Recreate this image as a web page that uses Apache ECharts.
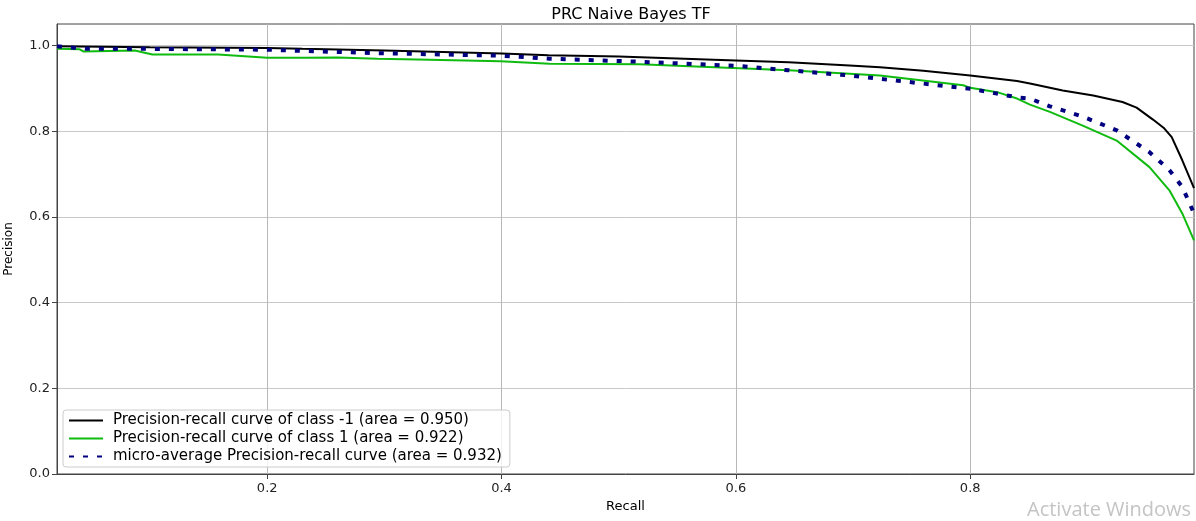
<!DOCTYPE html>
<html>
<head>
<meta charset="utf-8">
<script src="https://cdn.jsdelivr.net/npm/echarts@6/dist/echarts.min.js"></script>
<style>
html,body{margin:0;padding:0;background:#fff;}
#c{width:1196px;height:521px;}
</style>
</head>
<body>
<div id="c"></div>
<script>
// Data: [recall, precision]
const classNeg1 = [
  [0.0206,0.998],[0.10,0.996],[0.20,0.994],[0.23,0.992],[0.30,0.988],[0.40,0.981],
  [0.44,0.977],[0.50,0.974],[0.60,0.965],[0.645,0.961],[0.697,0.953],[0.723,0.949],
  [0.76,0.941],[0.80,0.930],[0.84,0.917],[0.851,0.911],[0.879,0.895],[0.905,0.883],
  [0.93,0.868],[0.942,0.855],[0.956,0.827],[0.965,0.808],[0.972,0.786],[0.981,0.732],
  [0.991,0.667]
];
const class1 = [
  [0.0206,0.992],[0.040,0.991],[0.043,0.986],[0.087,0.988],[0.102,0.979],[0.158,0.979],
  [0.184,0.974],[0.200,0.971],[0.232,0.971],[0.26,0.972],[0.294,0.969],[0.328,0.967],
  [0.399,0.963],[0.441,0.957],[0.518,0.956],[0.603,0.947],[0.645,0.942],[0.697,0.934],
  [0.723,0.930],[0.794,0.907],[0.80,0.901],[0.823,0.891],[0.84,0.876],[0.851,0.862],
  [0.868,0.845],[0.896,0.813],[0.925,0.778],[0.953,0.716],[0.970,0.662],[0.981,0.608],
  [0.991,0.545]
];
const microAvg = [
  [0.0206,0.998],[0.0445,0.992],[0.10,0.992],[0.20,0.990],[0.232,0.987],[0.294,0.982],
  [0.40,0.976],[0.441,0.969],[0.518,0.962],[0.603,0.952],[0.645,0.942],[0.697,0.930],
  [0.723,0.922],[0.80,0.899],[0.84,0.879],[0.851,0.876],[0.868,0.858],[0.896,0.834],
  [0.925,0.802],[0.953,0.751],[0.970,0.709],[0.981,0.670],[0.991,0.608]
];
const seriesNames = [
  'Precision-recall curve of class -1 (area = 0.950)',
  'Precision-recall curve of class 1 (area = 0.922)',
  'micro-average Precision-recall curve (area = 0.932)'
];
const xTicks = [0.2, 0.4, 0.6, 0.8];
const yTicks = [0.0, 0.2, 0.4, 0.6, 0.8, 1.0];

const FONT = 'DejaVu Sans';
const chart = echarts.init(document.getElementById('c'), null, {renderer: 'canvas'});
chart.setOption({
  animation: false,
  backgroundColor: '#ffffff',
  textStyle: {fontFamily: FONT},
  title: {
    text: 'PRC Naive Bayes TF',
    left: 626, top: 2, textAlign: 'center',
    textStyle: {fontFamily: FONT, fontSize: 16, fontWeight: 'normal', color: '#000'}
  },
  grid: {
    left: 57, right: 2, top: 24, bottom: 47,
    outerBoundsMode: 'none', containLabel: false,
    show: true, borderColor: '#444', borderWidth: 1, backgroundColor: 'transparent'
  },
  legend: {
    orient: 'vertical', left: 63, top: 410,
    itemWidth: 34, itemHeight: 15, itemGap: 3,
    padding: [3, 8, 3, 5],
    backgroundColor: 'rgba(255,255,255,0.8)',
    borderColor: '#cccccc', borderWidth: 1, borderRadius: 3,
    itemStyle: {opacity: 0},
    textStyle: {fontFamily: FONT, fontSize: 15, color: '#000', padding: [0, 0, 0, 5]},
    data: seriesNames
  },
  xAxis: {
    type: 'value', min: 0.0206, max: 0.991,
    name: 'Recall', nameLocation: 'middle', nameGap: 26,
    nameTextStyle: {fontFamily: FONT, fontSize: 13, color: '#000'},
    axisLine: {show: true, lineStyle: {color: '#444', width: 1}},
    axisTick: {show: true, length: 5, customValues: xTicks, lineStyle: {color: '#444'}},
    axisLabel: {customValues: xTicks, margin: 8, fontSize: 13, color: '#222', fontFamily: FONT,
      formatter: v => v.toFixed(1)},
    splitLine: {show: true, lineStyle: {color: '#b8b8b8', width: 1}}
  },
  yAxis: {
    type: 'value', min: 0, max: 1.05, interval: 0.2,
    name: 'Precision', nameLocation: 'middle', nameGap: 42,
    nameTextStyle: {fontFamily: FONT, fontSize: 12, color: '#000'},
    axisLine: {show: true, lineStyle: {color: '#444', width: 1}},
    axisTick: {show: true, length: 5, customValues: yTicks, lineStyle: {color: '#444'}},
    axisLabel: {customValues: yTicks, margin: 7, fontSize: 13, color: '#222', fontFamily: FONT,
      formatter: v => v.toFixed(1)},
    splitLine: {show: true, lineStyle: {color: '#c8c8c8', width: 1}}
  },
  series: [
    {name: seriesNames[0], type: 'line', data: classNeg1, symbol: 'none', showSymbol: false,
      lineStyle: {color: '#000000', width: 2}, itemStyle: {color: '#000000'}},
    {name: seriesNames[1], type: 'line', data: class1, symbol: 'none', showSymbol: false,
      lineStyle: {color: '#10bb10', width: 2}, itemStyle: {color: '#10bb10'}},
    {name: seriesNames[2], type: 'line', data: microAvg, symbol: 'none', showSymbol: false,
      lineStyle: {color: '#000080', width: 4, type: [5, 9]}, itemStyle: {color: '#000080'}}
  ],
  graphic: [{
    type: 'text', left: 1027, top: 500, silent: true,
    style: {text: 'Activate Windows', fontFamily: 'Open Sans', fontSize: 20, fill: '#c4c4c4'}
  }]
});
</script>
</body>
</html>
